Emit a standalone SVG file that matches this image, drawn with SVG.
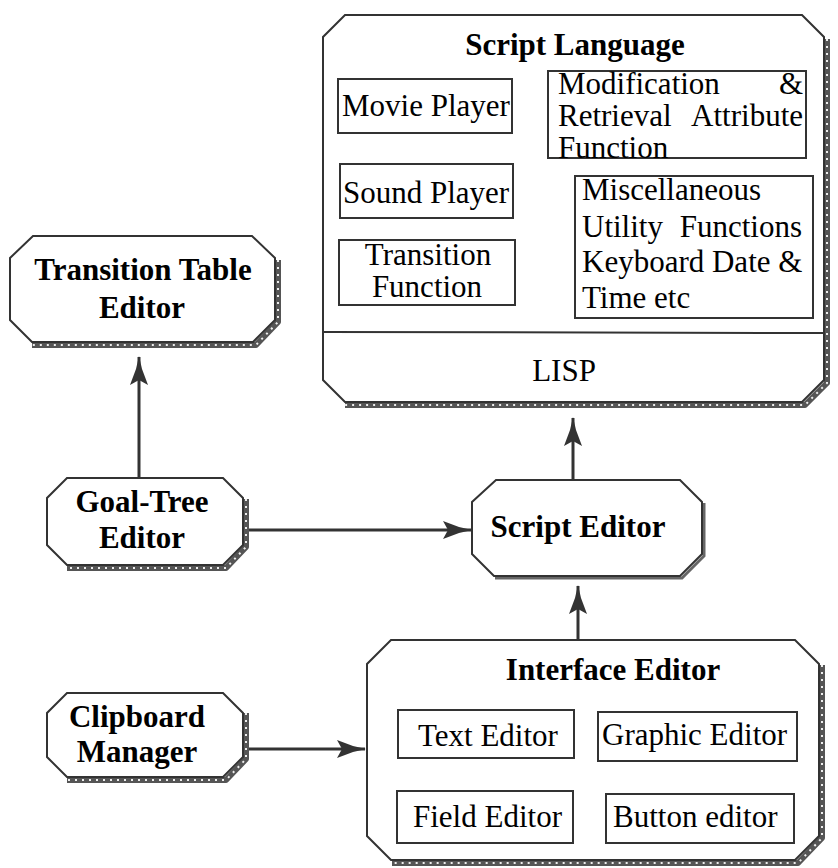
<svg xmlns="http://www.w3.org/2000/svg" width="838" height="868" viewBox="0 0 838 868">
<style>
.box{fill:#fff;stroke:#333;stroke-width:2}
.sh{fill:none;stroke:#555;stroke-width:6;stroke-linejoin:round}
.shd{fill:none;stroke:#eee;stroke-width:2;stroke-dasharray:2 5}
.sub{fill:none;stroke:#333;stroke-width:2}
.b{font-family:"Liberation Serif",serif;font-weight:bold;font-size:31px;fill:#000}
.r{font-family:"Liberation Serif",serif;font-size:31px;fill:#000}
.c{text-anchor:middle}
.e{text-anchor:end}
.con{fill:none;stroke:#333;stroke-width:3}
</style>
<defs>
<marker id="ah" viewBox="-30 -10 32 20" refX="0" refY="0" markerWidth="32" markerHeight="20" markerUnits="userSpaceOnUse" orient="auto">
<path d="M1,0 L-12,-3 L-28,-9 L-23,0 L-28,9 L-12,3 Z" fill="#333"/>
</marker>
</defs>
<rect width="838" height="868" fill="#fff"/>

<g id="connectors">
<line class="con" x1="139" y1="478" x2="139" y2="357" marker-end="url(#ah)"/>
<line class="con" x1="243" y1="530" x2="471" y2="530" marker-end="url(#ah)"/>
<line class="con" x1="573" y1="480" x2="573" y2="418" marker-end="url(#ah)"/>
<line class="con" x1="578" y1="640" x2="578" y2="586" marker-end="url(#ah)"/>
<line class="con" x1="243" y1="749" x2="365" y2="749" marker-end="url(#ah)"/>
</g>

<g id="script-language">
<path class="sh" d="M827,39 V383 L805,405 H345"/>
<path class="shd" d="M827,39 V383 L805,405 H345"/>
<path class="box" d="M345,15 H802 L824,37 V380 L802,402 H345 L323,380 V37 Z"/>
<line x1="323" y1="332" x2="824" y2="333" stroke="#333" stroke-width="2"/>
<text class="b c" x="575" y="55">Script Language</text>
<rect class="sub" x="338" y="79" width="174" height="54"/>
<text class="r" x="342" y="116">Movie Player</text>
<rect class="sub" x="548" y="71" width="258" height="87"/>
<text class="r" x="558" y="94">Modification</text>
<text class="r e" x="803" y="94">&amp;</text>
<text class="r" x="558" y="126">Retrieval</text>
<text class="r e" x="803" y="126">Attribute</text>
<text class="r" x="558" y="158">Function</text>
<rect class="sub" x="340" y="164" width="173" height="54"/>
<text class="r" x="343" y="203">Sound Player</text>
<rect class="sub" x="339" y="240" width="176" height="65"/>
<text class="r c" x="428" y="265">Transition</text>
<text class="r c" x="427" y="297">Function</text>
<rect class="sub" x="575" y="176" width="238" height="142"/>
<text class="r" x="582" y="200">Miscellaneous</text>
<text class="r" x="582" y="237">Utility</text>
<text class="r e" x="802" y="237">Functions</text>
<text class="r" x="582" y="272">Keyboard Date &amp;</text>
<text class="r" x="582" y="308">Time etc</text>
<text class="r c" x="564" y="381">LISP</text>
</g>

<g id="transition-table-editor">
<path class="sh" d="M278,260 V322 L256,345 H32"/>
<path class="shd" d="M278,260 V322 L256,345 H32"/>
<path class="box" d="M33,236 H252 L275,258 V320 L253,342 H32 L10,320 V258 Z"/>
<text class="b c" x="143" y="280">Transition Table</text>
<text class="b c" x="142" y="318">Editor</text>
</g>

<g id="goal-tree-editor">
<path class="sh" d="M246,499 V547 L226,568 H67"/>
<path class="shd" d="M246,499 V547 L226,568 H67"/>
<path class="box" d="M67,478 H223 L243,498 V545 L223,565 H67 L47,545 V498 Z"/>
<text class="b c" x="142" y="512">Goal-Tree</text>
<text class="b c" x="142" y="548">Editor</text>
</g>

<g id="script-editor">
<path d="M704,503 V556 L682,578 H495" fill="none" stroke="#666" stroke-width="3"/>
<path class="box" d="M496,480 H680 L702,502 V554 L680,576 H494 L472,554 V502 Z"/>
<text class="b c" x="578" y="537">Script Editor</text>
</g>

<g id="interface-editor">
<path class="sh" d="M822,665 V838 L798,863 H392"/>
<path class="shd" d="M822,665 V838 L798,863 H392"/>
<path class="box" d="M391,640 H795 L819,664 V836 L795,860 H391 L367,836 V664 Z"/>
<text class="b c" x="613" y="680">Interface Editor</text>
<rect class="sub" x="398" y="710" width="176" height="48"/>
<text class="r" x="418" y="746">Text Editor</text>
<rect class="sub" x="598" y="712" width="199" height="49"/>
<text class="r" x="602" y="745">Graphic Editor</text>
<rect class="sub" x="397" y="791" width="176" height="52"/>
<text class="r" x="413" y="827">Field Editor</text>
<rect class="sub" x="606" y="794" width="188" height="49"/>
<text class="r" x="613" y="827">Button editor</text>
</g>

<g id="clipboard-manager">
<path class="sh" d="M246,713 V759 L226,780 H67"/>
<path class="shd" d="M246,713 V759 L226,780 H67"/>
<path class="box" d="M67,693 H223 L243,713 V757 L223,777 H67 L47,757 V713 Z"/>
<text class="b c" x="137" y="727">Clipboard</text>
<text class="b c" x="137" y="762">Manager</text>
</g>
</svg>
